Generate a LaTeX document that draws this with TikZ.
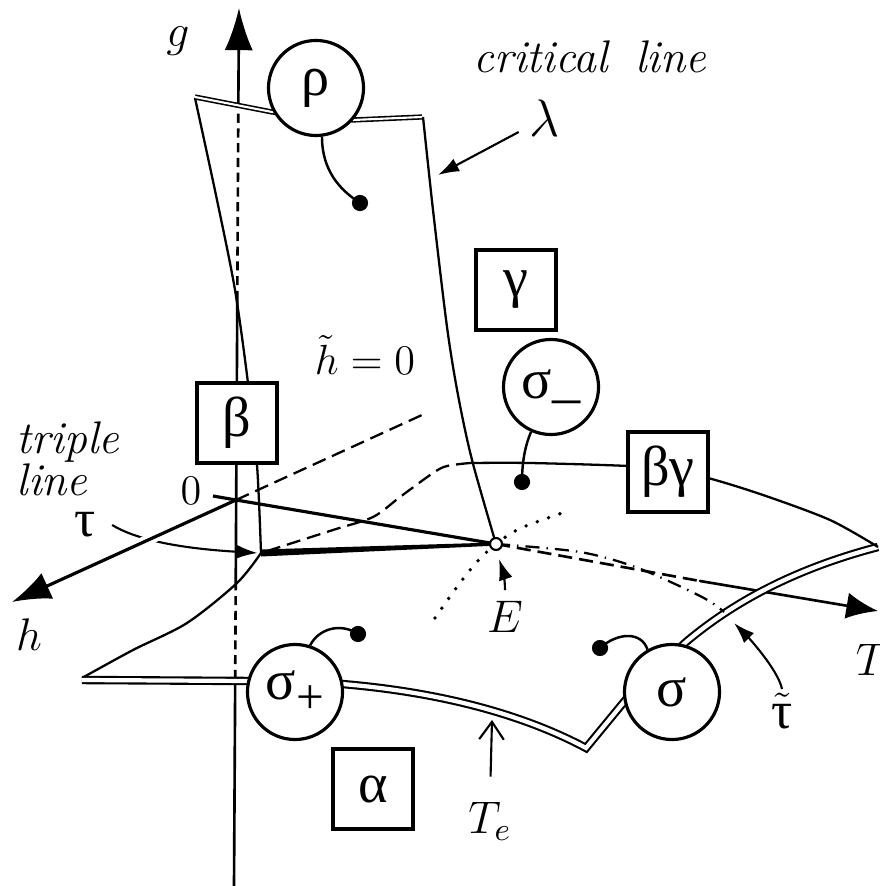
\RequirePackage{fix-cm}
\documentclass[tikz,border=0pt]{standalone}
\usepackage{fontspec}
\newfontfamily\grk{Liberation Serif}
\usetikzlibrary{arrows.meta}
\begin{document}
\begin{tikzpicture}[x=0.01cm,y=-0.01cm,
	sheetline/.style={line width=0.65pt},
	axisline/.style={line width=0.75pt},
	hidden/.style={dash pattern=on 4pt off 2pt},
	ghidden/.style={dash pattern=on 2.6pt off 1.6pt},
	dashdot/.style={dash pattern=on 4pt off 2pt on 0.4pt off 2pt},
	dotrow/.style={line width=1.1pt,line cap=round,dash pattern=on 0pt off 3.4pt},
	frontedge/.style={line width=0.6pt,double,double distance=1.2pt},
	topedge/.style={line width=0.45pt,double,double distance=0.6pt},
	phasebox/.style={draw,line width=0.9pt,fill=white,minimum size=0.8cm,inner sep=0pt,font=\grk\fontsize{16}{18}\selectfont},
	phasepoint/.style={circle,draw,line width=0.9pt,fill=white,minimum size=0.95cm,inner sep=0pt,font=\grk\fontsize{16}{18}\selectfont},
	pinline/.style={line width=0.7pt},
	mathlabel/.style={inner sep=1pt,font=\fontsize{13}{15}\selectfont},
	smalltip/.style={-{Latex[length=6pt,width=4pt]},line width=0.6pt}]
	\useasboundingbox (0,0) rectangle (879,886);
	\coordinate (O) at (236,500);
	\coordinate (E) at (496,544);
	\coordinate (tp) at (261,553);
	\coordinate (gbot) at (234,886);
	\coordinate (gtop) at (239,8);
	\coordinate (htip) at (12,602);
	\coordinate (hback) at (422,415);
	\coordinate (Tvis) at (700,581);
	\coordinate (Ttip) at (878,611);
	% labels
	\node [mathlabel] (glab) at (178,41) {$g$};
	\node [inner sep=1pt,font=\fontsize{13}{15}\selectfont] (critlab) at (590,57) {\textit{critical\hspace{0.6em}line}};
	\node [inner sep=3pt,font=\fontsize{15}{17}\selectfont] (lamlab) at (545,118) {$\lambda$};
	\node [inner sep=0.5pt,font=\fontsize{12}{14}\selectfont] (hzero) at (365,355) {$\tilde h = 0$};
	\node [align=left,anchor=north west,inner sep=0pt,font=\fontsize{13}{12}\selectfont\itshape] (triplelab) at (16,421) {triple\\line};
	\node [inner sep=1pt,font=\fontsize{12}{14}\selectfont] (zerolab) at (191,491) {$0$};
	\node [inner sep=0.5pt,font=\grk\fontsize{15}{17}\selectfont] (taulab) at (85,525) {τ};
	\node [mathlabel] (hlab) at (29,635) {$h$};
	\node [mathlabel] (Elab) at (505,617) {$E$};
	\node [mathlabel] (Tlab) at (872,660) {$T$};
	\node [mathlabel] (ttlab) at (782,711) {$\tilde{\hbox{\grk\fontsize{15}{17}\selectfont τ}}$};
	\node [mathlabel] (Telab) at (490,821) {$T_e$};
	% axes
	\draw [smalltip] ([xshift=4pt]taulab.east) .. controls (140,542) and (190,549) .. ([xshift=-1pt]tp);
	\draw [white,line width=3pt] (170,530) -- (110,557);
	\draw [line width=0.9pt,-{Latex[length=11pt,width=8pt]}] (O) -- (htip);
	\draw [sheetline,hidden] (O) -- (hback);
	\draw [axisline] (gbot) -- (235.2,679);
	\draw [axisline,ghidden] (235.2,679) -- (235.7,588);
	\draw [axisline] (235.7,588) -- (237.3,300);
	\draw [axisline,ghidden] (237.3,300) -- (238.3,108);
	\draw [axisline,-{Latex[length=12pt,width=8pt]}] (238.3,108) -- (gtop);
	\draw [line width=0.9pt] (213,496) -- (O) -- (E);
	\draw [axisline,hidden] (E) -- (Tvis);
	\draw [axisline,line cap=round,-{Latex[length=9pt,width=7.5pt]}] (Tvis) -- (Ttip);
	% upper sheet
	\draw [sheetline] plot [smooth] coordinates {(195,98) (217,200) (235,290) (248,383) (257,465) (tp)};
	\draw [sheetline] plot [smooth] coordinates {(423,117) (433,210) (447,327) (458,395) (472,460) (E)};
	\draw [topedge] (195,97) -- (272,112) -- (353,120) -- (422,117);
	\fill (261,549.5) -- (492,542.6) -- (492,545.8) -- (261,556.5) -- cycle;
	% lower sheet
	\draw [sheetline] plot [smooth] coordinates {(tp) (237,583) (187,623) (133,650) (82,678)};
	\draw [frontedge] (82,680) -- (250,681) -- (342,684) .. controls (450,693) and (530,718) .. (586,748) -- (628,697) -- (686,642) .. controls (730,605) and (790,570) .. (878,547);
	\draw [sheetline] plot [smooth] coordinates {(878,547) (830,520) (763,495) (708,478) (668,470) (628,466) (530,463) (470,463)};
	\draw [sheetline,hidden] plot [smooth] coordinates {(470,463) (447,466) (433,473) (400,497) (373,517) (333,530) (tp)};
	\draw [sheetline,dashdot] plot [smooth] coordinates {(E) (580,552) (638,568) (702,597) (724,612)};
	\draw [dotrow] plot [smooth] coordinates {(435,618) (454,591) (475,564) (E) (521,528) (565,512)};
	\node [circle,draw,fill=white,line width=0.6pt,inner sep=0pt,minimum size=3.4pt] (Ept) at (E) {};
	% phases
	\node [phasepoint] (rho) at (316,88) {ρ};
	\node [phasepoint] (sigm) at (551,387) {σ\raisebox{0.6pt}{\_}};
	\node [phasepoint] (sigp) at (295,692) {σ\raisebox{-4pt}{\fontsize{14}{14}\selectfont +}};
	\node [phasepoint] (sig) at (672,692) {σ};
	\node [phasebox] (gam) at (516,290) {γ};
	\node [phasebox] (bet) at (237,423) {β};
	\node [phasebox] (betgam) at (668,472) {βγ};
	\node [phasebox] (alp) at (373,789) {α};
	\coordinate (rhodot) at (360,203);
	\coordinate (sigmdot) at (522,482);
	\coordinate (sigpdot) at (358,634);
	\coordinate (sigdot) at (600,648);
	\draw [pinline] (rho.-83) .. controls +(0,34) and +(-20,-13) .. (rhodot);
	\draw [pinline] (sigm.-114) .. controls +(-6,14) and +(0,-20) .. (sigmdot);
	\draw [pinline] (sigp.72) .. controls +(8,-16) and +(-18,-12) .. (sigpdot);
	\draw [pinline] (sig.120) .. controls +(-6,-18) and +(18,-16) .. (sigdot);
	\foreach \d in {rhodot,sigmdot,sigpdot,sigdot}
		\fill (\d) circle [radius=2.3pt];
	% label arrows
	\coordinate (lamarr) at (438,175);
	\coordinate (Earr) at (499,559);
	\coordinate (ttarr) at (734,623);
	\coordinate (Tearr) at (492,720);
	\draw [smalltip] (lamlab) -- (lamarr);
	\draw [smalltip,shorten <=2pt] (Elab.north) .. controls +(0,-16) and +(4,12) .. (Earr);
	\draw [smalltip] (ttlab.north) .. controls +(-4,-20) and +(12,12) .. (ttarr);
	\draw [line width=0.6pt,shorten <=6pt,-{Straight Barb[length=5pt,width=7pt]}] (Telab.north) -- (Tearr);
\end{tikzpicture}
\end{document}
